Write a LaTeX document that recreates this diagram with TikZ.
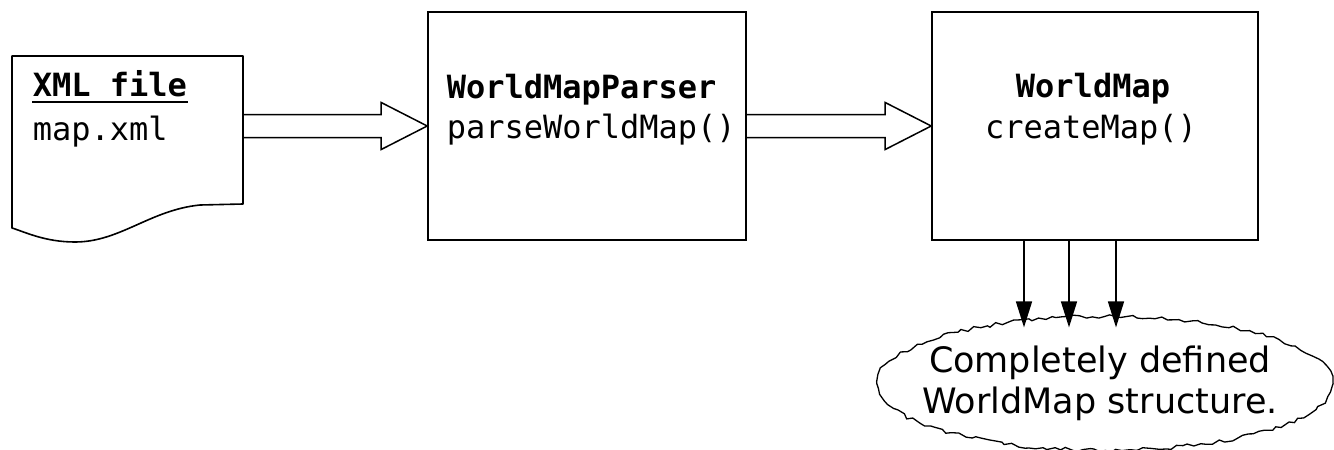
\documentclass[tikz,border=0pt]{standalone}
\usepackage{fontspec}
\setmonofont{DejaVu Sans Mono}
\setsansfont{DejaVu Sans}
\usetikzlibrary{calc,arrows.meta,decorations.pathmorphing}

% wide hollow arrow from the right side of #1 to the left side of #2
\newcommand\hollowarrow[2]{%
  \draw[hollow] let \p1=(#1.east), \p2=(#2.west) in
    (\x1,\y2+11.5) -- (\x2-46,\y2+11.5) -- (\x2-46,\y2+23.5) -- (\x2,\y2)
    -- (\x2-46,\y2-23.5) -- (\x2-46,\y2-11.5) -- (\x1,\y2-11.5);}

\begin{document}
\begin{tikzpicture}[x=1pt,y=-1pt,
  line width=1.6pt,
  box/.style={draw, rectangle, inner sep=0pt},
  hollow/.style={draw, line width=1.5pt, line join=miter},
  feed/.style={line width=1.6pt, shorten >=-11pt, -{Triangle[length=26pt,width=16pt]}},
  title/.style={font=\fontsize{32}{40}\selectfont\ttfamily\bfseries, inner sep=0pt},
  call/.style={font=\fontsize{32}{40}\selectfont\ttfamily, inner sep=0pt},
  cloudtext/.style={font=\fontsize{35}{41}\selectfont\sffamily, align=center, inner sep=0pt},
  cloudline/.style={line width=1.3pt, decorate,
    decoration={random steps, segment length=6pt, amplitude=2pt}},
]
\useasboundingbox (0,0) rectangle (1334,450);
\pgfmathsetseed{11}

% input document with wavy lower edge
\node[box, draw=none, minimum width=231pt, minimum height=148pt] (doc) at (127.5,130) {};
\draw[line join=round] (12,56) -- (243,56) -- (243,204) -- (200,205)
  .. controls (150,210) and (120,242) .. (75,242)
  .. controls (45,242) and (25,232) .. (12,228) -- cycle;
\node[title, anchor=base west] (xmlt) at (32,96) {XML file};
\draw[line width=2.6pt] ([yshift=-6pt]xmlt.base west) -- ([yshift=-6pt]xmlt.base east);
\node[call, anchor=base west] (xmlf) at (32,140) {map.xml};

% parser box
\node[box, minimum width=318pt, minimum height=228pt] (parser) at (587,126) {};
\node[title, anchor=base west] (pt) at (446,98) {WorldMapParser};
\node[call, anchor=base west] (pc) at (446,138) {parseWorldMap()};

% map box
\node[box, minimum width=326pt, minimum height=228pt] (map) at (1095,126) {};
\node[title, anchor=base] (mt) at (1093,97) {WorldMap};
\node[call, anchor=base] (mc) at (1091,138) {createMap()};

% flow between stages
\hollowarrow{doc}{parser}
\hollowarrow{parser}{map}

% resulting structure
\node[cloudtext] (cloud) at (1100,383.4) {Completely defined\\WorldMap structure.};
\draw[cloudline] ([xshift=5pt]cloud.center) ellipse [x radius=228pt, y radius=67pt];
\coordinate (cloudtop) at ([yshift=67pt]cloud.center);

\draw[feed] ([xshift=-71pt]map.south) -- ([xshift=-71pt]map.south |- cloudtop);
\draw[feed] ([xshift=-26pt]map.south) -- ([xshift=-26pt]map.south |- cloudtop);
\draw[feed] ([xshift=21pt]map.south) -- ([xshift=21pt]map.south |- cloudtop);
\end{tikzpicture}
\end{document}
